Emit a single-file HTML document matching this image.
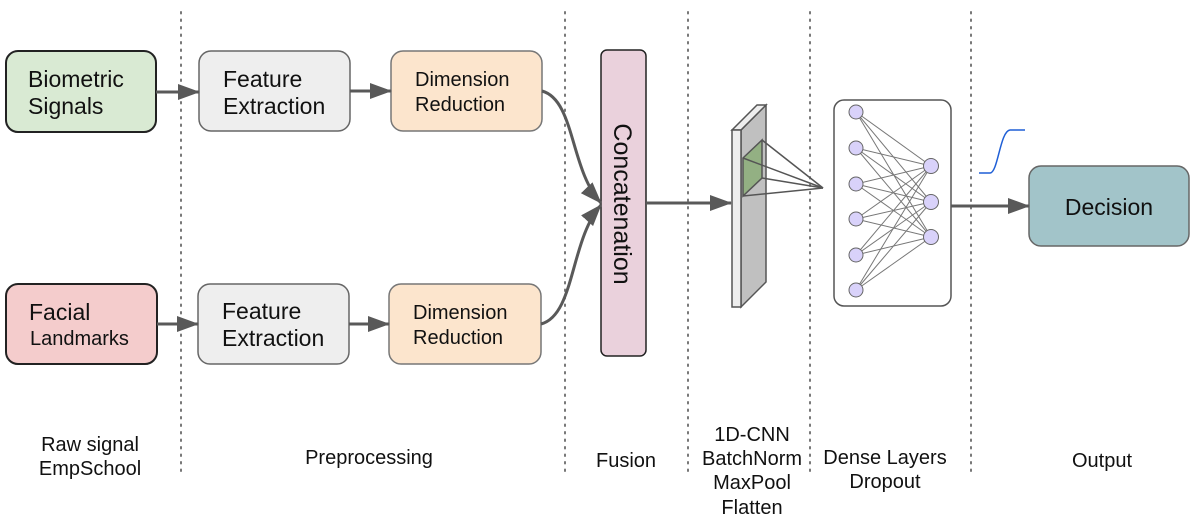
<!DOCTYPE html>
<html><head><meta charset="utf-8"><style>
html,body{margin:0;padding:0;background:#fff;}
svg{display:block;font-family:"Liberation Sans",Arial,sans-serif;}
</style></head><body>
<svg width="1196" height="523" viewBox="0 0 1196 523" xmlns="http://www.w3.org/2000/svg">
<defs>
<marker id="ahb" markerWidth="22" markerHeight="16" refX="21" refY="8" orient="auto" markerUnits="userSpaceOnUse" viewBox="0 0 22 16">
<path d="M0,0 L22,8 L0,16 z" fill="#595959"/></marker>
</defs>
<g stroke="#777" stroke-width="2" stroke-dasharray="1.5,6" stroke-linecap="round">
<line x1="181" y1="12" x2="181" y2="475"/>
<line x1="565" y1="12" x2="565" y2="475"/>
<line x1="688" y1="12" x2="688" y2="475"/>
<line x1="810" y1="12" x2="810" y2="475"/>
<line x1="971" y1="12" x2="971" y2="475"/>
</g>
<rect x="6" y="51" width="150" height="81" rx="12" fill="#d9ead3" stroke="#222" stroke-width="2"/>
<rect x="199" y="51" width="151" height="80" rx="12" fill="#eeeeee" stroke="#666" stroke-width="1.5"/>
<rect x="391" y="51" width="151" height="80" rx="12" fill="#fce5cd" stroke="#777" stroke-width="1.5"/>
<rect x="6" y="284" width="151" height="80" rx="12" fill="#f4cccc" stroke="#222" stroke-width="2"/>
<rect x="198" y="284" width="151" height="80" rx="12" fill="#eeeeee" stroke="#666" stroke-width="1.5"/>
<rect x="389" y="284" width="152" height="80" rx="12" fill="#fce5cd" stroke="#777" stroke-width="1.5"/>
<rect x="601" y="50" width="45" height="306" rx="6" fill="#ead1dc" stroke="#222" stroke-width="1.5"/>
<rect x="1029" y="166" width="160" height="80" rx="12" fill="#a2c4c9" stroke="#666" stroke-width="1.5"/>
<rect x="834" y="100" width="117" height="206" rx="10" fill="#fff" stroke="#555" stroke-width="1.5"/>
<g fill="#111" font-size="23">
<text x="28" y="87">Biometric</text><text x="28" y="114">Signals</text>
<text x="223" y="87">Feature</text><text x="223" y="114">Extraction</text>
<text x="222" y="319">Feature</text><text x="222" y="346">Extraction</text>
<text x="29" y="320">Facial</text>
<text x="1109" y="215" text-anchor="middle">Decision</text>
<text transform="translate(614,204) rotate(90)" text-anchor="middle" font-size="25">Concatenation</text>
</g>
<g fill="#111" font-size="20">
<text x="415" y="86">Dimension</text><text x="415" y="111">Reduction</text>
<text x="413" y="319">Dimension</text><text x="413" y="344">Reduction</text>
<text x="30" y="345">Landmarks</text>
</g>
<g fill="#111" font-size="20" text-anchor="middle">
<text x="90" y="451">Raw signal</text><text x="90" y="475">EmpSchool</text>
<text x="369" y="464">Preprocessing</text>
<text x="626" y="467">Fusion</text>
<text x="752" y="441">1D-CNN</text><text x="752" y="465">BatchNorm</text><text x="752" y="489">MaxPool</text><text x="752" y="514">Flatten</text>
<text x="885" y="464">Dense Layers</text><text x="885" y="488">Dropout</text>
<text x="1102" y="467">Output</text>
</g>
<g stroke="#595959" stroke-width="3" fill="none">
<line x1="156" y1="92" x2="199" y2="92" marker-end="url(#ahb)"/>
<line x1="350" y1="91" x2="391" y2="91" marker-end="url(#ahb)"/>
<line x1="157" y1="324" x2="198" y2="324" marker-end="url(#ahb)"/>
<line x1="349" y1="324" x2="389" y2="324" marker-end="url(#ahb)"/>
<path d="M542,91 C575,100 570,170 601,203" marker-end="url(#ahb)"/>
<path d="M541,324 C575,315 570,240 601,205" marker-end="url(#ahb)"/>
<line x1="646" y1="203" x2="731" y2="203" marker-end="url(#ahb)"/>
<line x1="951" y1="206" x2="1029" y2="206" marker-end="url(#ahb)"/>
</g>
<polygon points="741,130 766,105 766,282 741,307" fill="#c0c0c0" stroke="#555" stroke-width="1.5"/>
<polygon points="732,130 757,105 766,105 741,130" fill="#eee" stroke="#555" stroke-width="1.5"/>
<rect x="732" y="130" width="9" height="177" fill="#eee" stroke="#555" stroke-width="1.5"/>
<polygon points="743,158 762,140 762,178 743,196" fill="#93b083" stroke="#555" stroke-width="1.5"/>
<g stroke="#555" stroke-width="1.5">
<line x1="743" y1="158" x2="823" y2="188"/><line x1="762" y1="140" x2="823" y2="188"/>
<line x1="762" y1="178" x2="823" y2="188"/><line x1="743" y1="196" x2="823" y2="188"/>
</g>
<g stroke="#777" stroke-width="1">
<line x1="856" y1="112" x2="931" y2="166"/><line x1="856" y1="112" x2="931" y2="202"/><line x1="856" y1="112" x2="931" y2="237"/>
<line x1="856" y1="148" x2="931" y2="166"/><line x1="856" y1="148" x2="931" y2="202"/><line x1="856" y1="148" x2="931" y2="237"/>
<line x1="856" y1="184" x2="931" y2="166"/><line x1="856" y1="184" x2="931" y2="202"/><line x1="856" y1="184" x2="931" y2="237"/>
<line x1="856" y1="219" x2="931" y2="166"/><line x1="856" y1="219" x2="931" y2="202"/><line x1="856" y1="219" x2="931" y2="237"/>
<line x1="856" y1="255" x2="931" y2="166"/><line x1="856" y1="255" x2="931" y2="202"/><line x1="856" y1="255" x2="931" y2="237"/>
<line x1="856" y1="290" x2="931" y2="166"/><line x1="856" y1="290" x2="931" y2="202"/><line x1="856" y1="290" x2="931" y2="237"/>
</g>
<g fill="#d9d2fa" stroke="#666" stroke-width="1">
<circle cx="856" cy="112" r="7"/><circle cx="856" cy="148" r="7"/><circle cx="856" cy="184" r="7"/>
<circle cx="856" cy="219" r="7"/><circle cx="856" cy="255" r="7"/><circle cx="856" cy="290" r="7"/>
<circle cx="931" cy="166" r="7.5"/><circle cx="931" cy="202" r="7.5"/><circle cx="931" cy="237" r="7.5"/>
</g>
<path d="M979,173 L990,173 C998,173 1000,131 1010,130 L1025,130" stroke="#1f5fd6" stroke-width="1.5" fill="none"/>
</svg>
</body></html>
